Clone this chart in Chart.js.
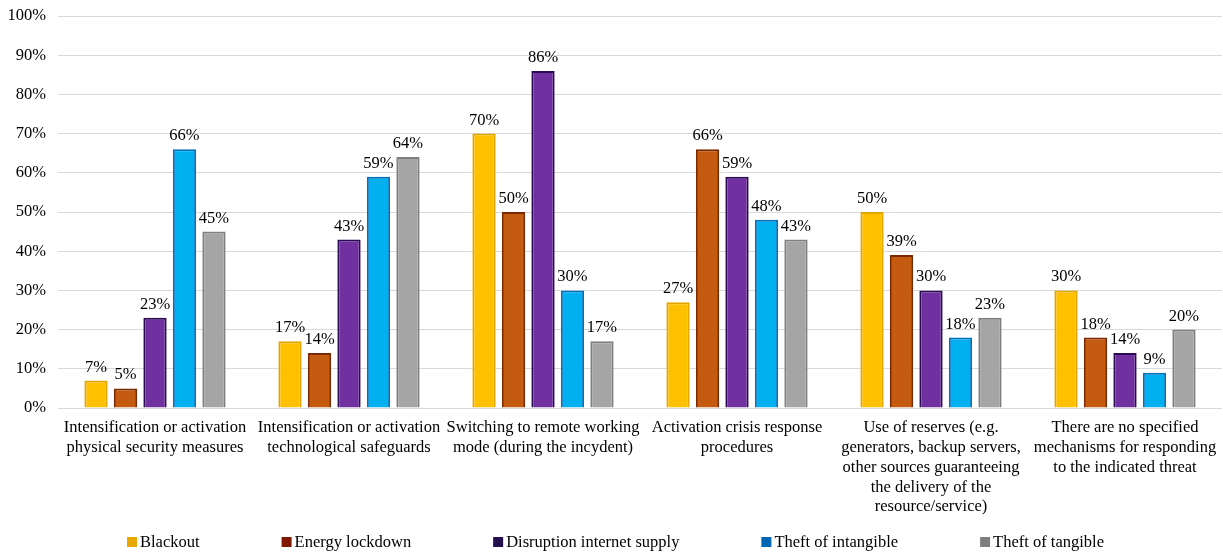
<!DOCTYPE html>
<html>
<head>
<meta charset="utf-8">
<script src="https://cdn.jsdelivr.net/npm/chart.js@4/dist/chart.umd.min.js"></script>
<style>
  html,body{margin:0;padding:0;background:#fff}
  #wrap{width:1223px;height:553px;position:relative}
</style>
</head>
<body>
<div id="wrap"><canvas id="c"></canvas></div>
<script>
// categories (multi-line labels)
const categories = [
  ['Intensification or activation', 'physical security measures'],
  ['Intensification or activation', 'technological safeguards'],
  ['Switching to remote working', 'mode (during the incydent)'],
  ['Activation crisis response', 'procedures'],
  ['Use of reserves (e.g.', 'generators, backup servers,', 'other sources guaranteeing', 'the delivery of the', 'resource/service)'],
  ['There are no specified', 'mechanisms for responding', 'to the indicated threat']
];
const seriesNames = ['Blackout', 'Energy lockdown', 'Disruption internet supply', 'Theft of intangible', 'Theft of tangible'];
const blackout   = [7, 17, 70, 27, 50, 30];
const energy     = [5, 14, 50, 66, 39, 18];
const disruption = [23, 43, 86, 59, 30, 14];
const intangible = [66, 59, 30, 48, 18, 9];
const tangible   = [45, 64, 17, 43, 23, 20];
const yTicks = [0, 10, 20, 30, 40, 50, 60, 70, 80, 90, 100];

const fills   = ['#FFC000', '#C55A11', '#7030A0', '#00B0F0', '#A5A5A5'];
const borders = ['#E3A600', '#7A2800', '#2B0A55', '#0071BC', '#7F7F7F'];
const legendFills = ['#E8A800', '#7F1A00', '#24104F', '#0065B3', '#7F7F7F'];
const FONT = '"Liberation Serif", "Times New Roman", serif';
const FS = 16.5;

const allSeries = [blackout, energy, disruption, intangible, tangible];

const valueLabels = {
  id: 'valueLabels',
  afterDatasetsDraw(chart) {
    const ctx = chart.ctx;
    ctx.save();
    ctx.font = FS + 'px ' + FONT;
    ctx.fillStyle = '#000';
    ctx.textAlign = 'center';
    ctx.textBaseline = 'bottom';
    chart.data.datasets.forEach((ds, i) => {
      chart.getDatasetMeta(i).data.forEach((bar, j) => {
        ctx.fillText(ds.data[j] + '%', bar.x, bar.y - 5);
      });
    });
    ctx.restore();
  }
};

const bottomLegend = {
  id: 'bottomLegend',
  afterDraw(chart) {
    const ctx = chart.ctx;
    ctx.save();
    ctx.font = FS + 'px ' + FONT;
    const box = 10, gap = 3, sep = 82;
    const widths = seriesNames.map(n => box + gap + ctx.measureText(n).width);
    const total = widths.reduce((a, b) => a + b, 0) + sep * (widths.length - 1);
    let x = (chart.width - total) / 2 + 4;
    const y = 542;
    seriesNames.forEach((n, i) => {
      ctx.fillStyle = legendFills[i];
      ctx.fillRect(x, y - 5, box, box);
      ctx.fillStyle = '#000';
      ctx.textBaseline = 'middle';
      ctx.textAlign = 'left';
      ctx.fillText(n, x + box + gap, y + 1);
      x += widths[i] + sep;
    });
    ctx.restore();
  }
};

new Chart(document.getElementById('c'), {
  type: 'bar',
  data: {
    labels: categories,
    datasets: seriesNames.map((n, i) => ({
      label: n,
      data: allSeries[i],
      backgroundColor: fills[i],
      borderColor: borders[i],
      borderWidth: 2,
      categoryPercentage: 0.76,
      barPercentage: 0.79
    }))
  },
  options: {
    responsive: true,
    maintainAspectRatio: false,
    animation: false,
    layout: { padding: { top: 16, bottom: 30, left: 0, right: 1 } },
    plugins: {
      legend: { display: false },
      tooltip: { enabled: false }
    },
    scales: {
      x: {
        grid: { display: false },
        border: { display: false },
        ticks: {
          color: '#000',
          font: { family: FONT, size: FS, lineHeight: 1.2 },
          padding: 2,
          maxRotation: 0,
          autoSkip: false
        },
        afterFit(scale) { scale.height = 115; }
      },
      y: {
        min: 0,
        max: 100,
        afterBuildTicks(scale) { scale.ticks = yTicks.map(v => ({ value: v })); },
        grid: { color: '#D9D9D9', lineWidth: 1, drawTicks: false },
        border: { display: false },
        ticks: {
          color: '#000',
          font: { family: FONT, size: FS },
          padding: 12,
          callback: v => v + '%'
        },
        afterFit(scale) { scale.width = 58; scale.paddingTop = 0; scale.paddingBottom = 0; }
      }
    }
  },
  plugins: [valueLabels, bottomLegend]
});
</script>
</body>
</html>
